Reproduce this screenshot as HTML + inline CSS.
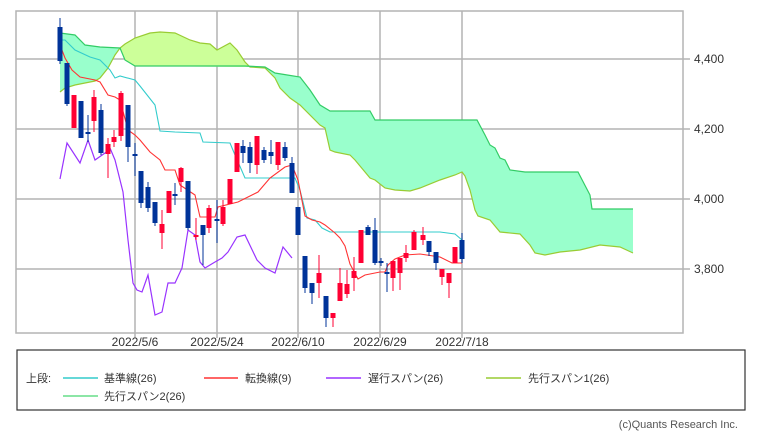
<!DOCTYPE html>
<html><head><meta charset="utf-8"><style>
body{margin:0;background:#fff;width:760px;height:441px;overflow:hidden;font-family:"Liberation Sans","Noto Sans CJK JP",sans-serif}
svg{position:absolute;left:0;top:0}
</style></head><body>
<svg width="760" height="441" xmlns="http://www.w3.org/2000/svg">
<g stroke="#b4b4b4" stroke-width="1.5" fill="none">
<line x1="16" y1="59" x2="690" y2="59"/><line x1="16" y1="129" x2="690" y2="129"/>
<line x1="16" y1="199" x2="690" y2="199"/><line x1="16" y1="269" x2="690" y2="269"/>
<line x1="135" y1="11" x2="135" y2="338"/><line x1="217" y1="11" x2="217" y2="338"/>
<line x1="298" y1="11" x2="298" y2="338"/><line x1="380" y1="11" x2="380" y2="338"/>
<line x1="462" y1="11" x2="462" y2="338"/>
<rect x="16" y="11" width="667" height="322"/>
</g>
<!-- cloud fills -->
<polygon fill="#99ffcc" points="60,33 75,35 85,45 100,47 120,48 115,55 108,68 100,78 95,81 85,83 75,85 65,88 60,92"/>
<polygon fill="#ccff99" points="120,48 125,44 135,38 150,33 160,32 175,33 190,40 200,43 210,44 217,50 230,43 237,50 245,62 250,67 245,67 135,66 125,60"/>
<polygon fill="#99ffcc" points="245,66 265,67 275,73 300,77 310,90 320,105 330,111 370,111 375,120 470,120 477,120 485,135 490,145 495,148 500,158 505,160 510,170 525,172 578,172 590,195 592,209 633,209 633,253 620,247 600,245 580,250 560,252 545,255 535,253 530,245 520,234 500,232 490,220 478,216 475,210 470,190 465,176 462,172 455,175 440,180 420,188 410,191 395,190 385,188 375,180 370,178 355,160 350,155 335,152 330,150 325,128 320,125 300,105 290,98 280,88 275,78 265,68 250,67"/>
<polyline fill="none" stroke="#99cc33" stroke-width="1.2" points="60,92 65,88 75,85 85,83 95,81 100,78 108,68 115,55 120,48 125,44 135,38 150,33 160,32 175,33 190,40 200,43 210,44 217,50 230,43 237,50 245,62 250,67 265,68 275,78 280,88 290,98 300,105 320,125 325,128 330,150 335,152 350,155 355,160 370,178 375,180 385,188 395,190 410,191 420,188 440,180 455,175 462,172 465,176 470,190 475,210 478,216 490,220 500,232 520,234 530,245 535,253 545,255 560,252 580,250 600,245 620,247 633,253"/>
<polyline fill="none" stroke="#33cc66" stroke-width="1.2" points="60,33 75,35 85,45 100,47 120,48 125,60 135,66 245,66 265,67 275,73 300,77 310,90 320,105 330,111 370,111 375,120 477,120 485,135 490,145 495,148 500,158 505,160 510,170 525,172 578,172 590,195 592,209 633,209"/>
<polyline fill="none" stroke="#33cccc" stroke-width="1.1" points="60,40 65,40 75,50 90,57 100,60 110,70 115,78 120,76 135,80 140,86 155,105 160,131 175,132 200,133 203,142 230,143 235,155 245,178 295,178 300,190 307,218 315,220 322,228 330,232 440,232 455,234 462,240"/>
<polyline fill="none" stroke="#ff3333" stroke-width="1.1" points="60,45 65,58 72,70 80,77 95,80 100,82 108,95 115,97 120,100 128,130 135,135 140,140 150,152 160,160 165,170 175,170 180,185 195,195 200,217 215,217 218,207 238,202 258,192 270,178 285,167 292,165 298,180 305,216 312,220 320,222 325,225 335,233 340,238 345,246 350,264 358,279 365,275 380,272 385,272 388,265 395,259 405,255 420,254 440,257 452,263 462,263"/>
<polyline fill="none" stroke="#9933ff" stroke-width="1.2" points="60,179 67,143 80,163 88,140 95,160 105,153 110,148 115,160 123,192 128,240 133,283 137,290 142,292 148,275 155,315 162,312 168,283 175,283 182,268 188,230 195,235 200,262 205,268 210,265 215,262 222,258 228,252 237,237 245,235 257,260 265,268 275,273 283,247 292,258"/>
<g id="c"></g>
<g font-size="12" fill="#333">
<text x="694" y="63">4,400</text><text x="694" y="133">4,200</text>
<text x="694" y="203">4,000</text><text x="694" y="273">3,800</text>
<text x="135" y="346" text-anchor="middle">2022/5/6</text>
<text x="217" y="346" text-anchor="middle">2022/5/24</text>
<text x="298" y="346" text-anchor="middle">2022/6/10</text>
<text x="380" y="346" text-anchor="middle">2022/6/29</text>
<text x="462" y="346" text-anchor="middle">2022/7/18</text>
</g>
<rect x="17" y="350" width="728" height="60" fill="none" stroke="#333" stroke-width="1.2"/>
<g font-size="11" fill="#333">
<text x="26" y="382">上段:</text>
<line x1="63" y1="378" x2="98" y2="378" stroke="#33cccc" stroke-width="1.5"/><text x="104" y="382">基準線(26)</text>
<line x1="204" y1="378" x2="238" y2="378" stroke="#ff3333" stroke-width="1.5"/><text x="245" y="382">転換線(9)</text>
<line x1="326" y1="378" x2="361" y2="378" stroke="#9933ff" stroke-width="1.5"/><text x="368" y="382">遅行スパン(26)</text>
<line x1="486" y1="378" x2="521" y2="378" stroke="#99cc33" stroke-width="1.5"/><text x="528" y="382">先行スパン1(26)</text>
<line x1="63" y1="396" x2="98" y2="396" stroke="#66dd88" stroke-width="1.5"/><text x="104" y="400">先行スパン2(26)</text>
<text x="738" y="428" text-anchor="end" fill="#555">(c)Quants Research Inc.</text>
</g>
</svg>
<script>
var d=[[60,'b',27,61,18,64],[67,'b',63,104,63,106],[74,'r',95,128,95,128],[81,'b',101,138,101,138],[88,'b',132,134,115,142],[94,'r',97,121,90,132],[101,'b',110,153,104,155],[108,'r',144,154,138,178],[114,'r',137,142,130,147],[121,'r',93,136,91,141],[128,'b',105,147,105,162],[135,'b',154,156,143,176],[141,'b',171,203,171,208],[148,'b',187,208,182,212],[155,'b',202,223,202,226],[162,'r',224,233,210,249],[169,'r',191,213,191,213],[175,'b',194,196,183,205],[181,'r',168,182,167,192],[188,'b',181,228,181,230],[196,'r',235,237,218,240],[203,'b',225,235,225,265],[209,'r',208,228,205,233],[217,'b',219,221,200,243],[223,'r',207,224,200,226],[230,'r',179,204,179,204],[237,'r',143,172,143,172],[243,'b',146,153,140,163],[250,'b',147,163,142,173],[257,'r',136,165,136,174],[264,'b',150,160,147,163],[271,'b',152,156,140,164],[278,'r',142,165,142,170],[285,'b',147,158,142,161],[292,'b',163,193,157,193],[298,'b',207,235,207,235],[305,'b',256,288,256,293],[312,'b',283,293,283,304],[319,'r',273,283,255,298],[326,'b',296,318,296,327],[333,'r',313,318,313,327],[340,'r',283,301,268,301],[347,'r',284,294,270,298],[354,'r',271,278,257,291],[361,'r',230,263,230,263],[368,'b',227,235,225,235],[375,'b',230,263,218,265],[381,'b',261,263,258,266],[387,'b',272,274,263,292],[393,'r',261,278,261,291],[400,'r',258,273,258,290],[406,'r',253,258,245,262],[414,'r',232,250,230,250],[423,'r',235,240,227,245],[429,'b',241,252,241,256],[436,'b',252,263,252,270],[442,'r',269,277,269,285],[449,'r',273,283,273,298],[455,'r',247,263,247,263],[462,'b',240,259,233,263]];
var s='';d.forEach(function(c){var col=c[1]=='r'?'#ff0033':'#003399';
s+='<line x1="'+c[0]+'" x2="'+c[0]+'" y1="'+c[4]+'" y2="'+c[5]+'" stroke="'+col+'" stroke-width="1"/>';
s+='<rect x="'+(c[0]-2.5)+'" y="'+c[2]+'" width="5" height="'+Math.max(1.5,c[3]-c[2])+'" fill="'+col+'"/>';});
document.getElementById('c').innerHTML=s;
</script>
</body></html>
